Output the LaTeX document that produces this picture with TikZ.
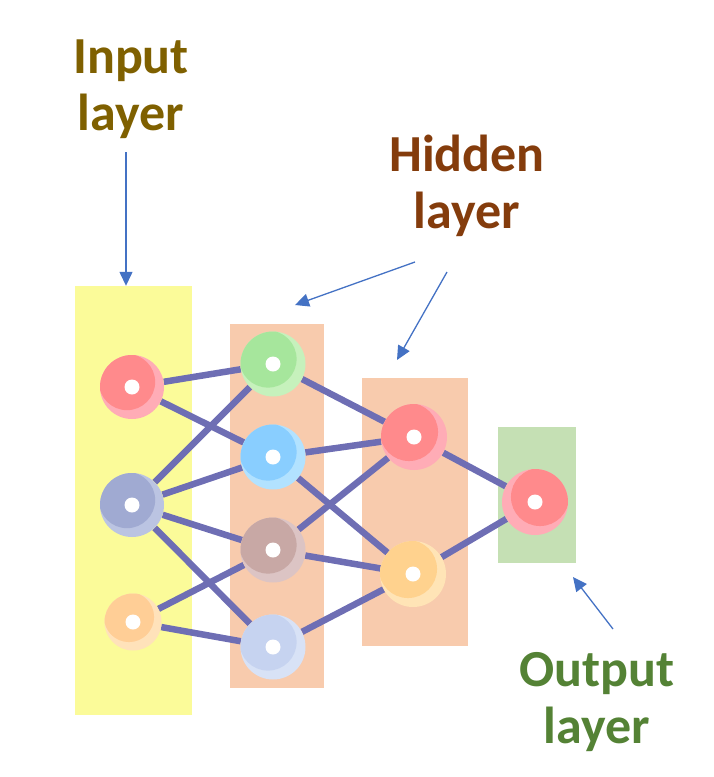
\documentclass[tikz,border=0pt]{standalone}
\usepackage{fontspec}
\setmainfont{Carlito}
\usetikzlibrary{arrows.meta}
\pgfdeclarelayer{bg}
\pgfdeclarelayer{edges}
\pgfsetlayers{bg,edges,main}
\definecolor{yelc}{RGB}{251,251,153}
\definecolor{peachc}{RGB}{248,203,173}
\definecolor{greenc}{RGB}{197,224,180}
\definecolor{edgec}{RGB}{110,110,180}
\definecolor{arrc}{RGB}{68,114,196}
\definecolor{inputc}{RGB}{127,96,0}
\definecolor{hidc}{RGB}{132,60,12}
\definecolor{outc}{RGB}{84,130,53}
\definecolor{redA}{RGB}{255,138,140}
\definecolor{redB}{RGB}{255,172,182}
\definecolor{slateA}{RGB}{160,170,210}
\definecolor{slateB}{RGB}{187,196,226}
\definecolor{orA}{RGB}{255,206,150}
\definecolor{orB}{RGB}{255,226,186}
\definecolor{grA}{RGB}{166,230,156}
\definecolor{grB}{RGB}{198,241,188}
\definecolor{blA}{RGB}{137,206,255}
\definecolor{blB}{RGB}{178,226,255}
\definecolor{mvA}{RGB}{200,168,165}
\definecolor{mvB}{RGB}{220,196,196}
\definecolor{paleA}{RGB}{198,211,240}
\definecolor{paleB}{RGB}{216,226,246}
\definecolor{yoA}{RGB}{255,210,142}
\definecolor{yoB}{RGB}{255,228,182}
\tikzset{
  lbl/.style={font=\bfseries\fontsize{52}{57}\selectfont, align=center, inner sep=0pt},
  link/.style={line width=6.5pt, draw=edgec},
  pointer/.style={line width=1.3pt, draw=arrc, -{Triangle[length=14pt,width=13pt]}},
  layerbox/.style={inner sep=0pt, draw=none},
  neuron/.style n args={4}{circle, minimum size=#1, inner sep=0pt, fill=#3,
    path picture={
      \fill[#2] ([shift={#4}]path picture bounding box.center) circle ({#1/2*0.88});
      \fill[white] (path picture bounding box.center) circle (7.5pt);}}
}
\begin{document}
\begin{tikzpicture}[x=1pt,y=-1pt]
\useasboundingbox (0,0) rectangle (713,777);
% layer boxes
\begin{pgfonlayer}{bg}
\node[layerbox, fill=yelc, minimum width=117pt, minimum height=429pt] (inbox) at (133.5,500.5) {};
\node[layerbox, fill=peachc, minimum width=94pt, minimum height=364pt] (hbox1) at (277,506) {};
\node[layerbox, fill=peachc, minimum width=106pt, minimum height=268pt] (hbox2) at (415,512) {};
\node[layerbox, fill=greenc, minimum width=78pt, minimum height=136pt] (obox) at (537,495) {};
\end{pgfonlayer}
% neurons
\node[neuron={64pt}{redA}{redB}{(-5,-5)}] (i1) at (132,387) {};
\node[neuron={64pt}{slateA}{slateB}{(-5,-5)}] (i2) at (132,505) {};
\node[neuron={57pt}{orA}{orB}{(-4,-5)}] (i3) at (133,622) {};
\node[neuron={65pt}{grA}{grB}{(-5,-5)}] (h1) at (273,364) {};
\node[neuron={65pt}{blA}{blB}{(-5,-5)}] (h2) at (273,457) {};
\node[neuron={65pt}{mvA}{mvB}{(-5,-5)}] (h3) at (273,550) {};
\node[neuron={65pt}{paleA}{paleB}{(-5,-5)}] (h4) at (273,647) {};
\node[neuron={66pt}{redA}{redB}{(-5,-5)}] (g1) at (414,437) {};
\node[neuron={66pt}{yoA}{yoB}{(-5,-5)}] (g2) at (413,574) {};
\node[neuron={66pt}{redA}{redB}{(5,-5)}] (o) at (535,502) {};
% connections
\begin{pgfonlayer}{edges}
\foreach \a/\b in {i1/h1,i1/h2,i2/h1,i2/h2,i2/h3,i2/h4,i3/h3,i3/h4,h1/g1,h2/g1,h2/g2,h3/g1,h3/g2,h4/g2,g1/o,g2/o}
  \draw[link] (\a) -- (\b);
\end{pgfonlayer}
% labels (anchor=base is the baseline of the last line)
\node[lbl, text=inputc, anchor=base] (inlbl) at (131,130) {Input\\layer};
\node[lbl, text=hidc, anchor=base] (hidlbl) at (467,228) {Hidden\\layer};
\node[lbl, text=outc, anchor=base] (outlbl) at (597,743) {Output\\layer};
% pointers
\coordinate (pa) at (126,152);
\coordinate (pb1) at (415,262);
\coordinate (pe1) at (295,305);
\coordinate (pb2) at (447,272);
\coordinate (pe2) at (397,360);
\coordinate (pc) at (613,629);
\coordinate (pce) at (573,577);
\draw[pointer] (pa) -- (pa |- inbox.north);
\draw[pointer] (pb1) -- (pe1);
\draw[pointer] (pb2) -- (pe2);
\draw[pointer] (pc) -- (pce);
\end{tikzpicture}
\end{document}
